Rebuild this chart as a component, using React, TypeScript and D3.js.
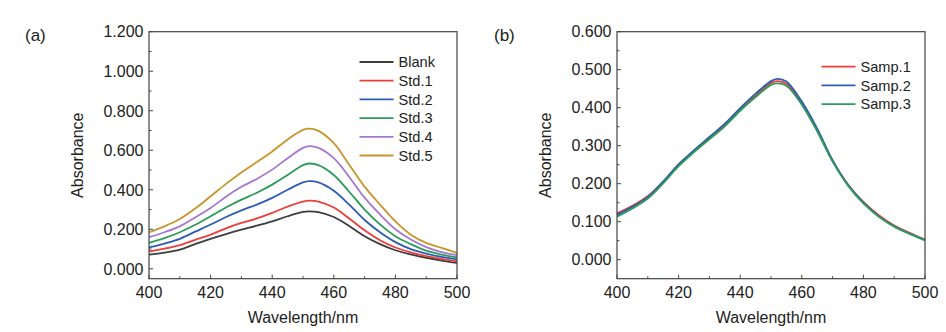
import React from "react";
import * as d3 from "d3";

const wavelengths = [400, 405, 410, 415, 420, 425, 430, 435, 440, 445, 450, 452, 455, 460, 465, 470, 475, 480, 485, 490, 495, 500];

const blank = [0.072, 0.082, 0.097, 0.125, 0.152, 0.176, 0.198, 0.218, 0.24, 0.266, 0.288, 0.291, 0.287, 0.262, 0.217, 0.165, 0.125, 0.094, 0.073, 0.056, 0.042, 0.03];
const std1 = [0.088, 0.102, 0.12, 0.147, 0.173, 0.205, 0.232, 0.255, 0.283, 0.315, 0.34, 0.345, 0.34, 0.31, 0.255, 0.195, 0.145, 0.108, 0.083, 0.064, 0.05, 0.038];
const std2 = [0.108, 0.128, 0.152, 0.188, 0.224, 0.262, 0.296, 0.325, 0.359, 0.4, 0.437, 0.444, 0.437, 0.395, 0.325, 0.247, 0.185, 0.135, 0.1, 0.077, 0.06, 0.048];
const std3 = [0.131, 0.155, 0.185, 0.223, 0.266, 0.31, 0.35, 0.385, 0.426, 0.475, 0.525, 0.533, 0.525, 0.475, 0.39, 0.3, 0.225, 0.165, 0.125, 0.092, 0.072, 0.058];
const std4 = [0.16, 0.185, 0.215, 0.26, 0.308, 0.365, 0.415, 0.455, 0.502, 0.56, 0.612, 0.621, 0.612, 0.56, 0.465, 0.36, 0.275, 0.2, 0.148, 0.11, 0.085, 0.07];
const std5 = [0.185, 0.215, 0.252, 0.305, 0.367, 0.43, 0.488, 0.54, 0.594, 0.655, 0.703, 0.709, 0.698, 0.636, 0.527, 0.416, 0.325, 0.24, 0.173, 0.131, 0.106, 0.081];

const samp1 = [0.122, 0.142, 0.167, 0.205, 0.25, 0.286, 0.32, 0.354, 0.395, 0.432, 0.465, 0.47, 0.463, 0.41, 0.34, 0.26, 0.198, 0.152, 0.117, 0.09, 0.071, 0.053];
const samp2 = [0.118, 0.139, 0.165, 0.206, 0.251, 0.288, 0.323, 0.358, 0.399, 0.437, 0.47, 0.476, 0.469, 0.416, 0.345, 0.262, 0.197, 0.15, 0.114, 0.088, 0.069, 0.052];
const samp3 = [0.113, 0.135, 0.161, 0.201, 0.246, 0.283, 0.317, 0.351, 0.392, 0.428, 0.46, 0.464, 0.458, 0.408, 0.338, 0.258, 0.195, 0.148, 0.113, 0.087, 0.068, 0.051];

const namesA = ["Blank", "Std.1", "Std.2", "Std.3", "Std.4", "Std.5"];
const valuesA = [blank, std1, std2, std3, std4, std5];
const colorsA = ["#3d3d3d", "#ee3d3a", "#2c5cb3", "#2b9d58", "#a577cf", "#c8952a"];

const namesB = ["Samp.1", "Samp.2", "Samp.3"];
const valuesB = [samp1, samp2, samp3];
const colorsB = ["#ee3d3a", "#2c5cb3", "#2b9d58"];

const xTicks = [400, 420, 440, 460, 480, 500];
const yTicksA = [0, 0.2, 0.4, 0.6, 0.8, 1.0, 1.2];
const yTicksB = [0, 0.1, 0.2, 0.3, 0.4, 0.5, 0.6];

const FONT = "'Liberation Sans', Arial, sans-serif";
const TXT = "#222";
const AX = "#444";

type PanelProps = {
  left: number;
  right: number;
  top: number;
  bottom: number;
  yDomain: [number, number];
  yTicks: number[];
  yMinorStep: number;
  names: string[];
  values: number[][];
  colors: string[];
  label: string;
  labelX: number;
  legendX: number;
  legendY: number;
  titleX: number;
};

function Panel(p: PanelProps) {
  const x = d3.scaleLinear().domain([400, 500]).range([p.left, p.right]);
  const y = d3.scaleLinear().domain(p.yDomain).range([p.bottom, p.top]);
  const line = d3
    .line<[number, number]>()
    .x((d) => x(d[0]))
    .y((d) => y(d[1]))
    .curve(d3.curveCatmullRom.alpha(0.5));
  const xMinor = d3.range(410, 500, 20);
  const yMinor = d3.range(p.yTicks[0] + p.yMinorStep, p.yTicks[p.yTicks.length - 1], p.yMinorStep * 2);
  const rowH = 18.7;
  return (
    <g>
      <text x={p.labelX} y={41} fontFamily={FONT} fontSize={17} fill={TXT}>
        {p.label}
      </text>
      <g>
        {p.values.map((vals, i) => (
          <path
            key={i}
            d={line(wavelengths.map((w, j) => [w, vals[j]] as [number, number])) || ""}
            fill="none"
            stroke={p.colors[i]}
            strokeWidth={1.8}
          />
        ))}
      </g>
      <rect
        x={p.left}
        y={p.top}
        width={p.right - p.left}
        height={p.bottom - p.top}
        fill="none"
        stroke={AX}
        strokeWidth={1.2}
      />
      {xTicks.map((t) => (
        <g key={"xt" + t}>
          <line x1={x(t)} x2={x(t)} y1={p.bottom} y2={p.bottom - 4} stroke={AX} strokeWidth={1} />
          <text x={x(t)} y={298} textAnchor="middle" fontFamily={FONT} fontSize={16} fill={TXT}>
            {t}
          </text>
        </g>
      ))}
      {xMinor.map((t) => (
        <line key={"xm" + t} x1={x(t)} x2={x(t)} y1={p.bottom} y2={p.bottom - 2.5} stroke={AX} strokeWidth={1} />
      ))}
      {p.yTicks.map((t) => (
        <g key={"yt" + t}>
          <line x1={p.left} x2={p.left + 4} y1={y(t)} y2={y(t)} stroke={AX} strokeWidth={1} />
          <text
            x={p.left - 5.5}
            y={y(t)}
            dy="0.36em"
            textAnchor="end"
            fontFamily={FONT}
            fontSize={16}
            fill={TXT}
          >
            {d3.format(".3f")(t)}
          </text>
        </g>
      ))}
      {yMinor.map((t) => (
        <line key={"ym" + t} x1={p.left} x2={p.left + 2.5} y1={y(t)} y2={y(t)} stroke={AX} strokeWidth={1} />
      ))}
      <text
        transform={`translate(${p.left - 66},${(p.top + p.bottom) / 2}) rotate(-90)`}
        textAnchor="middle"
        fontFamily={FONT}
        fontSize={16}
        fill={TXT}
      >
        Absorbance
      </text>
      <text x={p.titleX} y={323} textAnchor="middle" fontFamily={FONT} fontSize={16} fill={TXT}>
        Wavelength/nm
      </text>
      {p.names.map((n, i) => (
        <g key={n}>
          <line
            x1={p.legendX}
            x2={p.legendX + 34}
            y1={p.legendY + i * rowH}
            y2={p.legendY + i * rowH}
            stroke={p.colors[i]}
            strokeWidth={1.8}
          />
          <text
            x={p.legendX + 39}
            y={p.legendY + i * rowH}
            dy="0.36em"
            fontFamily={FONT}
            fontSize={14.6}
            fill={TXT}
          >
            {n}
          </text>
        </g>
      ))}
    </g>
  );
}

export default function App() {
  return (
    <svg width={946} height={332} style={{ display: "block", position: "absolute", left: 0, top: 0 }}>
      <rect x={0} y={0} width={946} height={332} fill="#fff" />
      <Panel
        left={149}
        right={457}
        top={31.7}
        bottom={278.7}
        yDomain={[-0.05, 1.2]}
        yTicks={yTicksA}
        yMinorStep={0.1}
        names={namesA}
        values={valuesA}
        colors={colorsA}
        label="(a)"
        labelX={25}
        legendX={359.5}
        legendY={62}
        titleX={303}
      />
      <Panel
        left={617}
        right={925}
        top={31.7}
        bottom={278.7}
        yDomain={[-0.05, 0.6]}
        yTicks={yTicksB}
        yMinorStep={0.05}
        names={namesB}
        values={valuesB}
        colors={colorsB}
        label="(b)"
        labelX={494}
        legendX={821.5}
        legendY={66.7}
        titleX={771}
      />
    </svg>
  );
}
